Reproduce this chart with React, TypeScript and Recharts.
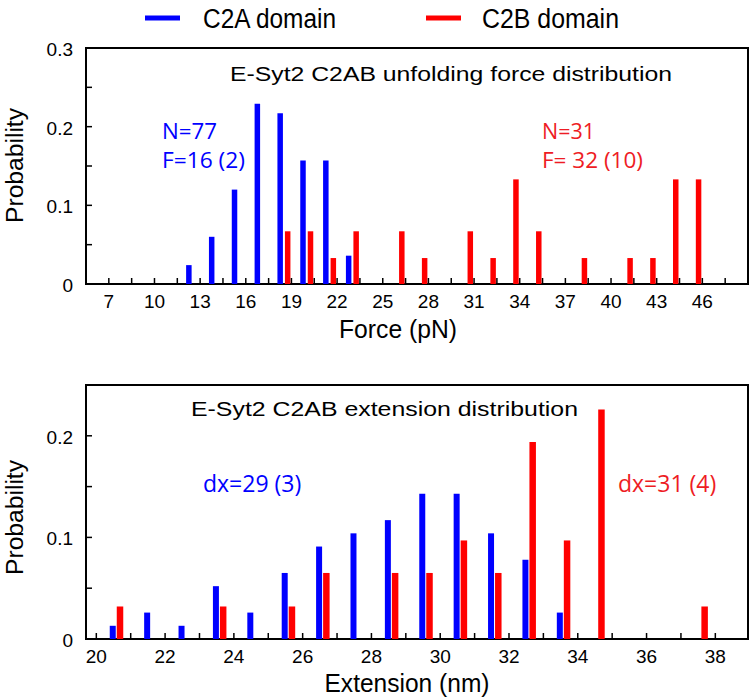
import React from 'react';
import { ComposedChart, Bar, XAxis, YAxis, ReferenceArea } from 'recharts';

// ---- Top panel: unfolding force histogram (bins of 1.5 pN) ----
const forceBins = [12.5, 14, 15.5, 17, 18.5, 20, 21.5, 23, 24.5, 26, 27.5, 29, 30.5, 32, 33.5, 35, 36.5, 38, 39.5, 41, 42.5, 44, 45.5];
const c2aForce = [0.024, 0.06, 0.12, 0.229, 0.217, 0.157, 0.157, 0.036, 0, 0, 0, 0, 0, 0, 0, 0, 0, 0, 0, 0, 0, 0, 0];
const c2bForce = [0, 0, 0, 0, 0.067, 0.067, 0.033, 0.067, 0, 0.067, 0.033, 0, 0.067, 0.033, 0.133, 0.067, 0, 0.033, 0, 0.033, 0.033, 0.133, 0.133];
const forceTicks = [7, 8.5, 10, 11.5, 13, 14.5, 16, 17.5, 19, 20.5, 22, 23.5, 25, 26.5, 28, 29.5, 31, 32.5, 34, 35.5, 37, 38.5, 40, 41.5, 43, 44.5, 46, 47.5];
const forceTickLabels = [7, 10, 13, 16, 19, 22, 25, 28, 31, 34, 37, 40, 43, 46];
const forceDomain = [5.5, 49];
const forceProbTicks = [0, 0.05, 0.1, 0.15, 0.2, 0.25, 0.3];
const forceProbLabels = [0, 0.1, 0.2, 0.3];

// ---- Bottom panel: extension histogram (bins of 1 nm) ----
const extBins = [20.6, 21.6, 22.6, 23.6, 24.6, 25.6, 26.6, 27.6, 28.6, 29.6, 30.6, 31.6, 32.6, 33.6, 34.6, 35.6, 36.6, 37.6];
const c2aExt = [0.013, 0.026, 0.013, 0.052, 0.026, 0.065, 0.091, 0.104, 0.117, 0.143, 0.143, 0.104, 0.078, 0.026, 0, 0, 0, 0];
const c2bExt = [0.032, 0, 0, 0.032, 0, 0.032, 0.065, 0, 0.065, 0.065, 0.097, 0.065, 0.194, 0.097, 0.226, 0, 0, 0.032];
const extTicks = [20, 21, 22, 23, 24, 25, 26, 27, 28, 29, 30, 31, 32, 33, 34, 35, 36, 37, 38];
const extTickLabels = [20, 22, 24, 26, 28, 30, 32, 34, 36, 38];
const extDomain = [19.7, 38.95];
const extProbTicks = [0, 0.05, 0.1, 0.15, 0.2, 0.25];
const extProbLabels = [0, 0.1, 0.2];

const BLUE = '#0000ff';
const RED = '#ff0000';
const NOTE_RED = '#ee1c24';
const TICK_FONT = "'Liberation Sans', Arial, Helvetica, sans-serif";
const NOTE_FONT = "'Open Sans', 'Noto Sans', sans-serif";

const forceData = forceBins.map((x, i) => ({ x, a: c2aForce[i], b: c2bForce[i] }));
const extData = extBins.map((x, i) => ({ x, a: c2aExt[i], b: c2bExt[i] }));

const near = (v: number, arr: number[]) => arr.some((a) => Math.abs(a - v) < 1e-6);

const makeXTick = (labels: number[]) => (props: any) => {
  const { x, y, payload } = props;
  const v = payload.value;
  return (
    <g>
      <line x1={x} x2={x} y1={y} y2={y - 6} stroke="#000" strokeWidth={1.5} />
      {near(v, labels) ? (
        <text x={x} y={y + 24} textAnchor="middle" fontSize={19} fontFamily={TICK_FONT} fill="#000">
          {String(v)}
        </text>
      ) : null}
    </g>
  );
};

const makeYTick = (labels: number[]) => (props: any) => {
  const { x, y, payload } = props;
  const v = payload.value;
  return (
    <g>
      <line x1={x} x2={x + 6} y1={y} y2={y} stroke="#000" strokeWidth={1.5} />
      {near(v, labels) ? (
        <text x={x - 13} y={y + 8} textAnchor="end" fontSize={19} fontFamily={TICK_FONT} fill="#000">
          {String(v)}
        </text>
      ) : null}
    </g>
  );
};

type HistProps = {
  data: any[];
  height: number;
  marginTop: number;
  xDomain: number[];
  xTicks: number[];
  xLabels: number[];
  yDomain: number[];
  yTicks: number[];
  yLabels: number[];
  barA: number;
  barB: number;
  gap: number;
};

function Hist(p: HistProps) {
  return (
    <ComposedChart
      width={751}
      height={p.height}
      data={p.data}
      margin={{ top: p.marginTop, right: 3, left: 26, bottom: 31 }}
      barGap={p.gap}
    >
      <XAxis
        dataKey="x"
        type="number"
        domain={p.xDomain}
        ticks={p.xTicks}
        interval={0}
        allowDataOverflow
        axisLine={false}
        tickLine={false}
        tickSize={0}
        tickMargin={0}
        height={30}
        tick={makeXTick(p.xLabels)}
      />
      <YAxis
        type="number"
        domain={p.yDomain}
        ticks={p.yTicks}
        interval={0}
        allowDataOverflow
        axisLine={false}
        tickLine={false}
        tickSize={0}
        tickMargin={0}
        width={60}
        tick={makeYTick(p.yLabels)}
      />
      <Bar dataKey="a" name="C2A domain" fill={BLUE} barSize={p.barA} isAnimationActive={false} />
      <Bar dataKey="b" name="C2B domain" fill={RED} barSize={p.barB} isAnimationActive={false} />
      <ReferenceArea
        x1={p.xDomain[0]}
        x2={p.xDomain[1]}
        y1={p.yDomain[0]}
        y2={p.yDomain[1]}
        fill="none"
        fillOpacity={0}
        stroke="#000"
        strokeWidth={2}
        ifOverflow="visible"
      />
    </ComposedChart>
  );
}

export default function App() {
  return (
    <div style={{ position: 'absolute', left: 0, top: 0, width: 751, height: 700, background: '#fff', overflow: 'hidden' }}>
      <div style={{ position: 'absolute', left: 0, top: 0 }}>
        <Hist
          data={forceData}
          height={345}
          marginTop={48}
          xDomain={forceDomain}
          xTicks={forceTicks}
          xLabels={forceTickLabels}
          yDomain={[0, 0.3]}
          yTicks={forceProbTicks}
          yLabels={forceProbLabels}
          barA={5.5}
          barB={5.5}
          gap={2}
        />
      </div>
      <div style={{ position: 'absolute', left: 0, top: 350 }}>
        <Hist
          data={extData}
          height={350}
          marginTop={35}
          xDomain={extDomain}
          xTicks={extTicks}
          xLabels={extTickLabels}
          yDomain={[0, 0.25]}
          yTicks={extProbTicks}
          yLabels={extProbLabels}
          barA={6}
          barB={6.5}
          gap={1}
        />
      </div>
      <svg
        width={751}
        height={700}
        style={{ position: 'absolute', left: 0, top: 0, pointerEvents: 'none' }}
      >
        {/* legend */}
        <line x1={145} x2={180} y1={18} y2={18} stroke={BLUE} strokeWidth={5} />
        <text x={203} y={28} fontSize={27} fontFamily={TICK_FONT} textLength={133} lengthAdjust="spacingAndGlyphs" fill="#000">C2A domain</text>
        <line x1={426} x2={461} y1={18} y2={18} stroke={RED} strokeWidth={5} />
        <text x={482} y={28} fontSize={27} fontFamily={TICK_FONT} textLength={137} lengthAdjust="spacingAndGlyphs" fill="#000">C2B domain</text>

        {/* top panel texts */}
        <text x={230} y={81} fontSize={20.5} fontFamily={TICK_FONT} textLength={442} lengthAdjust="spacingAndGlyphs" fill="#000">E-Syt2 C2AB unfolding force distribution</text>
        <text x={162} y={139} fontSize={21} fontFamily={NOTE_FONT} textLength={55} lengthAdjust="spacingAndGlyphs" fill={BLUE}>N=77</text>
        <text x={162} y={168} fontSize={21} fontFamily={NOTE_FONT} textLength={83} lengthAdjust="spacingAndGlyphs" fill={BLUE}>F=16 (2)</text>
        <text x={542} y={139} fontSize={21} fontFamily={NOTE_FONT} textLength={53} lengthAdjust="spacingAndGlyphs" fill={NOTE_RED}>N=31</text>
        <text x={542} y={168} fontSize={21} fontFamily={NOTE_FONT} textLength={101} lengthAdjust="spacingAndGlyphs" fill={NOTE_RED}>F= 32 (10)</text>
        <text transform="translate(23,165.5) rotate(-90)" textAnchor="middle" fontSize={23} fontFamily={TICK_FONT} textLength={115} lengthAdjust="spacingAndGlyphs" fill="#000">Probability</text>
        <text x={398} y={338} textAnchor="middle" fontSize={26} fontFamily={TICK_FONT} textLength={118} lengthAdjust="spacingAndGlyphs" fill="#000">Force (pN)</text>

        {/* bottom panel texts */}
        <text x={191} y={416} fontSize={20} fontFamily={TICK_FONT} textLength={387} lengthAdjust="spacingAndGlyphs" fill="#000">E-Syt2 C2AB extension distribution</text>
        <text x={203} y={492} fontSize={23} fontFamily={NOTE_FONT} fill={BLUE}>dx=29 (3)</text>
        <text x={618} y={492} fontSize={23} fontFamily={NOTE_FONT} fill={NOTE_RED}>dx=31 (4)</text>
        <text transform="translate(23,517.5) rotate(-90)" textAnchor="middle" fontSize={23} fontFamily={TICK_FONT} textLength={115} lengthAdjust="spacingAndGlyphs" fill="#000">Probability</text>
        <text x={407} y={692} textAnchor="middle" fontSize={26} fontFamily={TICK_FONT} textLength={165} lengthAdjust="spacingAndGlyphs" fill="#000">Extension (nm)</text>
      </svg>
    </div>
  );
}
